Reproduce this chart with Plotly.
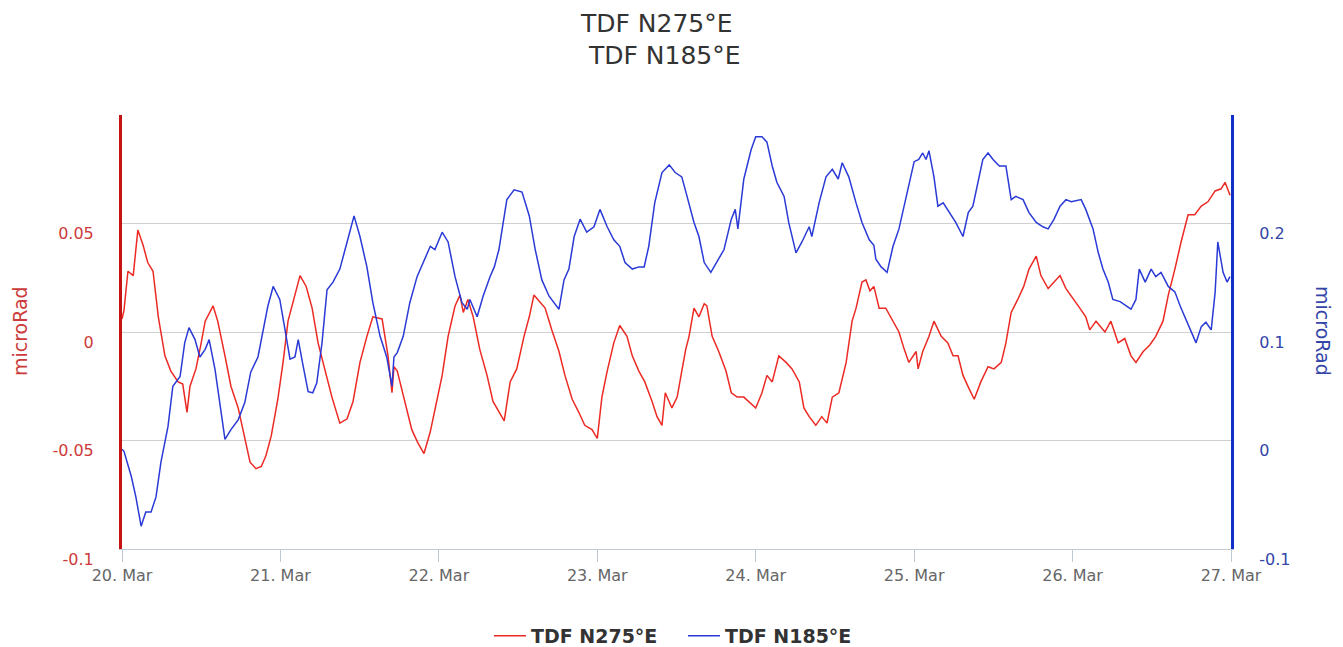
import pandas as pd
import plotly.graph_objects as go

# Hours since 20 Mar 00:00 and tilt values (microRad) for each sensor
n275_hours = [0.0, 0.3, 0.9, 1.7, 2.4, 3.2, 3.9, 4.7, 5.5, 6.5, 7.4, 8.5, 9.2, 9.85, 10.3,
              11.2, 12.0, 12.6, 13.8, 14.5, 15.6, 16.5, 17.6, 18.6, 19.4, 20.3, 21.1, 21.8,
              22.6, 23.6, 24.4, 25.15, 25.9, 26.97, 27.9, 28.8, 29.7, 30.75, 31.8, 33.0,
              34.1, 35.0, 36.05, 37.1, 38.0, 39.4, 40.3, 40.9, 41.2, 41.7, 42.9, 43.9, 44.8,
              45.75, 46.7, 47.7, 48.5, 49.4, 50.45, 51.2, 51.7, 52.4, 53.2, 54.2, 55.3, 56.2,
              56.8, 57.9, 58.8, 59.8, 60.9, 61.7, 62.4, 63.3, 64.1, 65.1, 66.2, 67.1, 68.2,
              69.2, 70.1, 71.2, 72.0, 72.7, 73.5, 74.5, 75.4, 76.5, 77.3, 78.3, 79.2, 80.3,
              81.05, 81.8, 82.3, 83.3, 84.1, 84.8, 85.4, 85.9, 86.65, 87.4, 88.2, 88.6, 89.4,
              90.4, 91.5, 92.3, 93.2, 94.2, 95.3, 96.0, 96.95, 97.7, 98.5, 99.5, 100.6, 101.5,
              102.6, 103.3, 104.1, 105.1, 106.0, 106.8, 107.6, 108.6, 109.7, 110.6, 111.2,
              112.1, 112.7, 113.3, 113.9, 114.7, 115.7, 116.8, 117.7, 118.5, 119.2, 120.3,
              120.6, 121.3, 122.25, 123.0, 124.1, 125.1, 125.9, 126.65, 127.4, 128.3, 129.1,
              130.1, 131.2, 132.1, 133.2, 133.9, 134.7, 135.7, 136.6, 137.4, 138.5, 139.2,
              140.3, 141.2, 142.1, 143.0, 144.1, 145.1, 146.0, 146.6, 147.55, 148.9, 149.8,
              150.9, 151.9, 152.85, 153.6, 154.7, 155.7, 156.6, 157.7, 158.5, 159.5, 160.4,
              161.5, 162.5, 163.5, 164.5, 165.6, 166.5, 167.1, 167.85]
n275_values = [0.006, 0.010, 0.028, 0.026, 0.047, 0.040, 0.032, 0.028, 0.007, -0.011, -0.018,
               -0.023, -0.024, -0.037, -0.025, -0.017, -0.005, 0.005, 0.012, 0.005, -0.011,
               -0.025, -0.035, -0.049, -0.060, -0.063, -0.062, -0.057, -0.048, -0.031, -0.014,
               0.005, 0.014, 0.026, 0.021, 0.011, -0.005, -0.017, -0.030, -0.042, -0.040,
               -0.032, -0.014, -0.002, 0.007, 0.006, -0.011, -0.028, -0.016, -0.018, -0.032,
               -0.045, -0.051, -0.056, -0.046, -0.032, -0.020, -0.002, 0.012, 0.017, 0.009,
               0.015, 0.007, -0.008, -0.020, -0.032, -0.035, -0.041, -0.023, -0.017, -0.002,
               0.007, 0.017, 0.014, 0.011, 0.001, -0.009, -0.020, -0.031, -0.037, -0.043,
               -0.045, -0.049, -0.030, -0.018, -0.005, 0.003, -0.002, -0.011, -0.018, -0.023,
               -0.032, -0.039, -0.043, -0.028, -0.035, -0.030, -0.018, -0.008, -0.002, 0.011,
               0.007, 0.013, 0.012, -0.002, -0.009, -0.018, -0.028, -0.030, -0.030, -0.033,
               -0.035, -0.028, -0.020, -0.023, -0.011, -0.014, -0.017, -0.023, -0.035, -0.039,
               -0.043, -0.039, -0.042, -0.030, -0.028, -0.014, 0.005, 0.011, 0.023, 0.024,
               0.019, 0.021, 0.011, 0.011, 0.005, 0.000, -0.008, -0.014, -0.009, -0.017,
               -0.009, -0.002, 0.005, -0.002, -0.005, -0.011, -0.011, -0.020, -0.026, -0.031,
               -0.023, -0.016, -0.017, -0.014, -0.005, 0.009, 0.015, 0.021, 0.029, 0.035,
               0.026, 0.020, 0.023, 0.026, 0.020, 0.015, 0.011, 0.007, 0.001, 0.005, 0.000,
               0.005, -0.005, -0.003, -0.011, -0.014, -0.009, -0.006, -0.002, 0.005, 0.017,
               0.029, 0.041, 0.054, 0.054, 0.058, 0.060, 0.065, 0.066, 0.069, 0.063]

n185_hours = [0.0, 0.3, 1.4, 2.1, 2.9, 3.6, 4.4, 5.15, 5.9, 6.97, 7.7, 8.8, 9.5, 10.15, 11.06,
              11.8, 12.6, 13.2, 14.1, 14.85, 15.6, 16.5, 17.6, 18.6, 19.5, 20.6, 21.4, 22.1,
              22.9, 23.9, 24.7, 25.45, 26.2, 26.7, 27.4, 28.2, 28.9, 29.5, 30.3, 31.06, 31.96,
              33.0, 34.1, 35.15, 36.05, 37.1, 38.0, 39.1, 40.1, 40.9, 41.2, 41.7, 42.6, 43.6,
              44.7, 45.6, 46.7, 47.4, 48.5, 49.4, 50.45, 51.5, 52.3, 52.7, 53.8, 54.7, 55.75,
              56.4, 57.1, 58.3, 59.4, 60.6, 61.7, 62.6, 63.6, 64.7, 66.2, 66.96, 67.7, 68.5,
              69.4, 70.4, 71.5, 72.4, 73.5, 74.5, 75.4, 76.2, 77.3, 78.3, 79.1, 79.8, 80.7,
              81.8, 82.9, 83.8, 84.8, 85.6, 86.65, 87.4, 88.2, 89.2, 90.1, 91.2, 92.3, 92.9,
              93.3, 94.2, 95.3, 96.0, 96.95, 97.7, 98.5, 99.2, 100.3, 101.0, 102.1, 103.0,
              104.1, 104.5, 105.6, 106.65, 107.6, 108.5, 109.1, 110.1, 111.2, 112.1, 113.2,
              113.9, 114.2, 115.0, 115.9, 116.8, 117.7, 118.5, 119.2, 120.0, 120.7, 121.3,
              121.8, 122.25, 123.0, 123.6, 124.4, 125.3, 126.3, 127.4, 128.2, 128.9, 129.7,
              130.4, 131.2, 131.95, 132.9, 133.9, 134.7, 135.4, 136.5, 137.4, 138.5, 139.5,
              140.3, 141.2, 142.1, 143.0, 143.8, 144.5, 145.3, 146.0, 147.1, 147.9, 148.6,
              149.4, 150.1, 151.2, 152.1, 152.85, 153.6, 154.1, 155.0, 155.9, 156.6, 157.4,
              158.5, 159.5, 160.3, 161.0, 161.9, 162.7, 163.5, 164.2, 165.0, 165.6, 166.0,
              166.8, 167.4, 167.85]
n185_values = [-0.008, -0.010, -0.033, -0.052, -0.079, -0.066, -0.066, -0.052, -0.020, 0.013,
               0.050, 0.059, 0.090, 0.104, 0.093, 0.077, 0.084, 0.093, 0.065, 0.035, 0.001,
               0.010, 0.019, 0.035, 0.063, 0.077, 0.102, 0.124, 0.142, 0.130, 0.102, 0.075,
               0.077, 0.093, 0.070, 0.045, 0.044, 0.053, 0.090, 0.139, 0.146, 0.158, 0.183,
               0.207, 0.188, 0.160, 0.127, 0.096, 0.077, 0.050, 0.077, 0.081, 0.096, 0.127,
               0.151, 0.164, 0.179, 0.176, 0.192, 0.183, 0.151, 0.127, 0.121, 0.130, 0.114,
               0.133, 0.151, 0.160, 0.176, 0.222, 0.231, 0.229, 0.207, 0.176, 0.148, 0.133,
               0.121, 0.148, 0.158, 0.188, 0.204, 0.192, 0.197, 0.213, 0.197, 0.185, 0.179,
               0.164, 0.158, 0.160, 0.160, 0.179, 0.219, 0.247, 0.254, 0.247, 0.243, 0.225,
               0.201, 0.188, 0.164, 0.155, 0.164, 0.176, 0.204, 0.213, 0.195, 0.241, 0.268,
               0.280, 0.280, 0.275, 0.253, 0.238, 0.225, 0.201, 0.173, 0.183, 0.197, 0.188,
               0.219, 0.243, 0.250, 0.241, 0.256, 0.243, 0.219, 0.201, 0.185, 0.180, 0.167,
               0.160, 0.155, 0.179, 0.195, 0.216, 0.234, 0.257, 0.259, 0.265, 0.259, 0.267,
               0.243, 0.216, 0.219, 0.210, 0.201, 0.188, 0.210, 0.216, 0.238, 0.259, 0.265,
               0.259, 0.253, 0.253, 0.222, 0.225, 0.222, 0.210, 0.201, 0.197, 0.195, 0.204,
               0.216, 0.222, 0.220, 0.221, 0.222, 0.213, 0.195, 0.173, 0.158, 0.146, 0.130,
               0.128, 0.124, 0.121, 0.130, 0.158, 0.146, 0.158, 0.151, 0.155, 0.142, 0.137,
               0.124, 0.114, 0.102, 0.090, 0.105, 0.109, 0.102, 0.137, 0.183, 0.155, 0.146,
               0.151]

left_ticks = [-0.1, -0.05, 0, 0.05, 0.1]
left_labels = ["-0.1", "-0.05", "0", "0.05", ""]
right_ticks = [-0.1, 0, 0.1, 0.2, 0.3]
right_labels = ["-0.1", "0", "0.1", "0.2", ""]

start = pd.Timestamp("2015-03-20 00:00")
t275 = start + pd.to_timedelta(n275_hours, unit="h")
t185 = start + pd.to_timedelta(n185_hours, unit="h")

RED = "#ec2a24"
BLUE = "#2a3ad6"
FONT = "DejaVu Sans"

fig = go.Figure()
fig.add_trace(go.Scatter(x=t275, y=n275_values, name="TDF N275°E", mode="lines",
                         line=dict(color=RED, width=1.5), yaxis="y"))
fig.add_trace(go.Scatter(x=t185, y=n185_values, name="TDF N185°E", mode="lines",
                         line=dict(color=BLUE, width=1.5), yaxis="y2"))

fig.update_layout(
    width=1343, height=647,
    margin=dict(l=122, r=112, t=115, b=98, autoexpand=False),
    paper_bgcolor="white", plot_bgcolor="white",
    font=dict(family=FONT, color="#555555"),
    showlegend=True,
    legend=dict(orientation="h", x=0.3309, xanchor="left", y=-0.2, yanchor="middle",
                font=dict(size=19, color="#333333", weight="bold"),
                bgcolor="rgba(0,0,0,0)", itemwidth=32, entrywidth=147),
    xaxis=dict(
        type="date",
        range=[start, start + pd.Timedelta(days=7)],
        dtick=86400000, tick0=start, tickformat="%d. %b",
        showgrid=False, zeroline=False,
        showline=True, linecolor="#c0c8d4", linewidth=1,
        ticks="outside", ticklen=12, tickcolor="#c0c8d4",
        tickfont=dict(size=16, color="#666666"),
    ),
    yaxis=dict(
        range=[-0.1, 0.1], tickvals=left_ticks, ticktext=left_labels,
        showgrid=True, gridcolor="#d0d0d0", gridwidth=1, zeroline=False,
        showline=True, linecolor="#c41414", linewidth=3,
        tickfont=dict(size=16, color="#cc3b3b"),
        ticklabelstandoff=22, ticklabelshift=10,
    ),
    yaxis2=dict(
        range=[-0.1, 0.3], tickvals=right_ticks, ticktext=right_labels,
        overlaying="y", side="right",
        showgrid=False, zeroline=False,
        showline=True, linecolor="#1030c8", linewidth=3,
        tickfont=dict(size=16, color="#3346a8"),
        ticklabelstandoff=22, ticklabelshift=10,
    ),
    annotations=[
        dict(text="TDF N275°E", xref="paper", yref="paper", x=0.4824, y=1.2097,
             showarrow=False, xanchor="center", yanchor="middle",
             font=dict(size=25, color="#333333")),
        dict(text="TDF N185°E", xref="paper", yref="paper", x=0.4896, y=1.136,
             showarrow=False, xanchor="center", yanchor="middle",
             font=dict(size=25, color="#333333")),
        dict(text="microRad", xref="paper", yref="paper", x=-0.092, y=0.502,
             showarrow=False, xanchor="center", yanchor="middle", textangle=-90,
             font=dict(size=19, color="#cc3b3b")),
        dict(text="microRad", xref="paper", yref="paper", x=1.083, y=0.502,
             showarrow=False, xanchor="center", yanchor="middle", textangle=90,
             font=dict(size=19, color="#3346a8")),
    ],
)

fig.write_html("out.html")
